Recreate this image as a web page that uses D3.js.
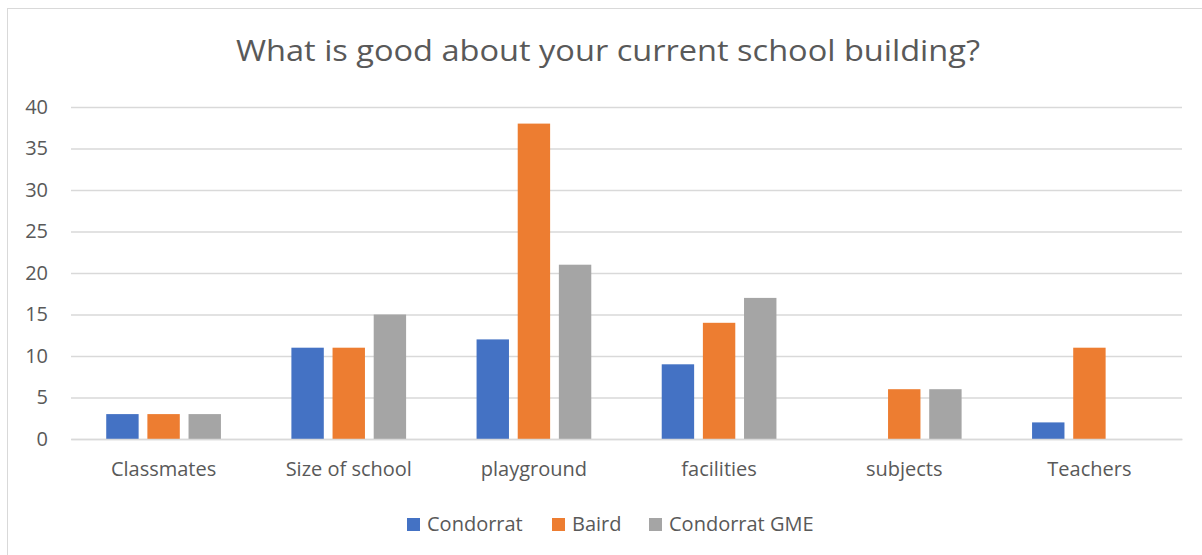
<!DOCTYPE html>
<html>
<head>
<meta charset="utf-8">
<script src="https://cdn.jsdelivr.net/npm/d3@7"></script>
<style>
  body { margin: 0; background: #fff; }
  text { font-family: "Open Sans", "Noto Sans", sans-serif; fill: #595959; }
</style>
</head>
<body>
<svg id="chart" width="1202" height="555"></svg>
<script>
  var categories = ["Classmates", "Size of school", "playground", "facilities", "subjects", "Teachers"];
  var seriesNames = ["Condorrat", "Baird", "Condorrat GME"];
  var condorrat = [3, 11, 12, 9, 0, 2];
  var baird = [3, 11, 38, 14, 6, 11];
  var condorratGME = [3, 15, 21, 17, 6, 0];
  var yTicks = [0, 5, 10, 15, 20, 25, 30, 35, 40];
  var colors = ["#4472C4", "#ED7D31", "#A5A5A5"];

  var PLOT_LEFT = 71;
  var PLOT_RIGHT = 1182;
  var PLOT_TOP = 107;
  var PLOT_BOTTOM = 439;

  var allSeries = [condorrat, baird, condorratGME];
  var svg = d3.select("#chart");

  // chart frame
  svg.append("rect")
    .attr("x", 7.5).attr("y", 8.5)
    .attr("width", 1220).attr("height", 600)
    .style("fill", "#fff").style("stroke", "#d9d9d9");

  svg.append("text")
    .attr("x", 608).attr("y", 61)
    .attr("text-anchor", "middle")
    .attr("textLength", 744)
    .attr("lengthAdjust", "spacingAndGlyphs")
    .style("font-size", "30px")
    .text("What is good about your current school building?");

  var x = d3.scaleBand().domain(categories).range([PLOT_LEFT, PLOT_RIGHT]);
  var y = d3.scaleLinear().domain([0, 40]).range([PLOT_BOTTOM, PLOT_TOP]);

  var barW = x.bandwidth() * 0.175;
  var barGap = barW * 0.27;
  var xSub = d3.scaleOrdinal().domain([0, 1, 2]).range([-barW * 1.5 - barGap, -barW * 0.5, barW * 0.5 + barGap]);

  var yAxis = d3.axisLeft(y).tickValues(yTicks).tickSize(-(PLOT_RIGHT - PLOT_LEFT)).tickPadding(23);
  var gy = svg.append("g").attr("transform", "translate(" + PLOT_LEFT + ",0)").call(yAxis);
  gy.select(".domain").remove();
  gy.selectAll("line").style("stroke", "#d9d9d9").style("stroke-width", 1.3);
  gy.selectAll("text").style("font-size", "20px").style("fill", "#595959");

  allSeries.forEach(function (vals, s) {
    svg.append("g").selectAll("rect")
      .data(vals)
      .enter().append("rect")
      .attr("x", function (d, i) { return x(categories[i]) + x.bandwidth() / 2 + xSub(s); })
      .attr("y", function (d) { return y(d); })
      .attr("width", barW)
      .attr("height", function (d) { return y(0) - y(d); })
      .style("fill", colors[s]);
  });

  var xAxis = d3.axisBottom(x).tickSize(0).tickPadding(23);
  var gx = svg.append("g").attr("transform", "translate(0," + PLOT_BOTTOM + ")").call(xAxis);
  gx.select(".domain").style("stroke", "#d9d9d9").style("stroke-width", 1.3);
  gx.selectAll("text").style("font-size", "20px").style("fill", "#595959");

  // legend
  var legendX = [407, 552, 649];
  var legend = svg.append("g");
  seriesNames.forEach(function (name, s) {
    legend.append("rect")
      .attr("x", legendX[s]).attr("y", 518)
      .attr("width", 13).attr("height", 13)
      .style("fill", colors[s]);
    legend.append("text")
      .attr("x", legendX[s] + 20).attr("y", 531)
      .style("font-size", "20px")
      .text(name);
  });
</script>
</body>
</html>
